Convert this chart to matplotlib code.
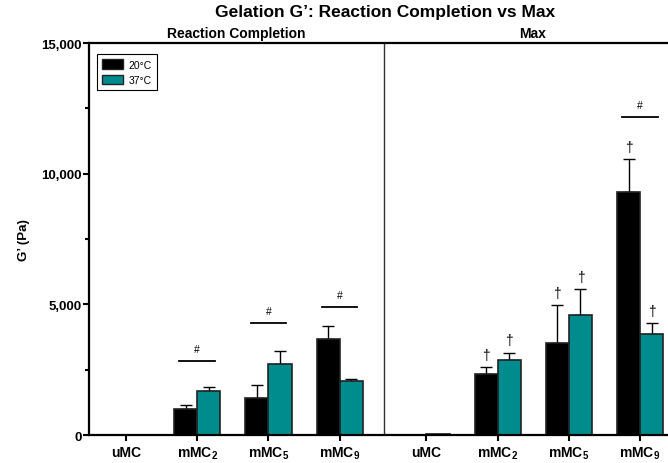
import matplotlib.pyplot as plt
from matplotlib.ticker import FixedLocator, FuncFormatter
import numpy as np

plt.rcParams['font.family'] = ['Liberation Sans', 'DejaVu Sans']
plt.rcParams['mathtext.fontset'] = 'custom'
plt.rcParams['mathtext.rm'] = 'Liberation Sans:bold'
plt.rcParams['mathtext.bf'] = 'Liberation Sans:bold'

groups = ['uMC', 'mMC$_2$', 'mMC$_5$', 'mMC$_9$']
panels = ['Reaction Completion', 'Max']

# mean and upper SD for each panel, 20°C then 37°C
rc_20 = [0, 1000, 1400, 3670]
rc_20_sd = [0, 160, 500, 490]
rc_37 = [0, 1670, 2730, 2080]
rc_37_sd = [0, 155, 500, 60]
mx_20 = [0, 2320, 3520, 9310]
mx_20_sd = [0, 290, 1460, 1250]
mx_37 = [20, 2870, 4580, 3850]
mx_37_sd = [0, 280, 1010, 420]

# '#' comparisons (panel, group, line height) and '†' marks (panel, group, series)
hash_marks = [(0, 1, 2840), (0, 2, 4290), (0, 3, 4900), (1, 3, 12180)]
dagger_marks = [(1, 1, 0), (1, 1, 1), (1, 2, 0), (1, 2, 1), (1, 3, 0), (1, 3, 1)]

black = '#000000'
teal = '#008C8C'
offsets = [0.0, 4.22]
width = 0.325

fig = plt.figure(figsize=(6.68, 4.64), dpi=100)
ax_box = [0.1332, 0.0603, 0.8868, 0.8448]
ax = fig.add_axes(ax_box)

data = [(rc_20, rc_20_sd, rc_37, rc_37_sd), (mx_20, mx_20_sd, mx_37, mx_37_sd)]
tops = {}
for p, (m20, s20, m37, s37) in enumerate(data):
    x = np.arange(len(groups)) + offsets[p]
    for k, (m, s, c) in enumerate([(m20, s20, black), (m37, s37, teal)]):
        xs = x + (k - 0.5) * width
        ax.bar(xs, m, width, color=c, edgecolor='#222222', linewidth=1.2, zorder=2)
        sd = np.array(s)
        mask = sd > 0
        ax.errorbar(xs[mask], np.array(m)[mask], yerr=[np.zeros(mask.sum()), sd[mask]],
                    fmt='none', ecolor='black', elinewidth=1.0, capsize=4.5,
                    capthick=1.0, zorder=1)
        for g in range(len(groups)):
            tops[(p, g, k)] = (xs[g], m[g] + s[g])

for p, g, y in hash_marks:
    xc = g + offsets[p]
    ax.plot([xc - 0.25, xc + 0.25], [y, y], color='black', lw=1.3)
    ax.text(xc, y + 250, '#', ha='center', va='bottom', fontsize=7.5)

for p, g, k in dagger_marks:
    xd, yt = tops[(p, g, k)]
    ax.text(xd, yt + 200, '\u2020', ha='center', va='bottom', fontsize=10)

divider = 3.62
ax.axvline(divider, color='#333333', lw=1.0)

ax.set_xlim(-0.521, 7.80)
ax.set_ylim(0, 15000)

xt = list(np.arange(4) + offsets[0]) + list(np.arange(4) + offsets[1])
ax.set_xticks(xt)
ax.set_xticklabels(groups * 2, fontsize=10, fontweight='bold')
ax.yaxis.set_major_locator(FixedLocator([0, 5000, 10000, 15000]))
ax.yaxis.set_minor_locator(FixedLocator([2500, 7500, 12500]))
ax.yaxis.set_major_formatter(FuncFormatter(lambda v, _: f'{int(v):,}'))
for lab in ax.get_yticklabels():
    lab.set_fontweight('bold')
    lab.set_fontsize(9.5)
ax.tick_params(axis='y', which='major', width=1.5, length=4, pad=1)
ax.tick_params(axis='y', which='minor', width=1.5, length=3)
ax.tick_params(axis='x', length=4, width=1.5, pad=3)

ax.spines['right'].set_visible(False)
for side in ['left', 'bottom', 'top']:
    ax.spines[side].set_linewidth(1.6)

ax.set_ylabel('G\u2019 (Pa)', fontsize=9.5, fontweight='bold', labelpad=8)

fig.text(ax_box[0] + ax_box[2] / 2, 0.972, 'Gelation G\u2019: Reaction Completion vs Max',
         ha='center', va='center', fontsize=12.5, fontweight='bold')
ax.text((ax.get_xlim()[0] + divider) / 2, 15120, panels[0], ha='center', va='bottom',
        fontsize=10, fontweight='bold')
ax.text((divider + ax.get_xlim()[1]) / 2, 15120, panels[1], ha='center', va='bottom',
        fontsize=10, fontweight='bold')

h1 = plt.Rectangle((0, 0), 1, 1, facecolor=black, edgecolor='#222222', lw=1)
h2 = plt.Rectangle((0, 0), 1, 1, facecolor=teal, edgecolor='#222222', lw=1)
leg = ax.legend([h1, h2], ['20\u00b0C', '37\u00b0C'], loc='upper left',
                bbox_to_anchor=(0.004, 0.985), fontsize=7.5, fancybox=False,
                edgecolor='black', framealpha=1, handlelength=2.0, handleheight=1.0,
                borderpad=0.5, labelspacing=0.5, handletextpad=0.6)
leg.get_frame().set_linewidth(0.8)

fig.savefig('out.png', dpi=100)
